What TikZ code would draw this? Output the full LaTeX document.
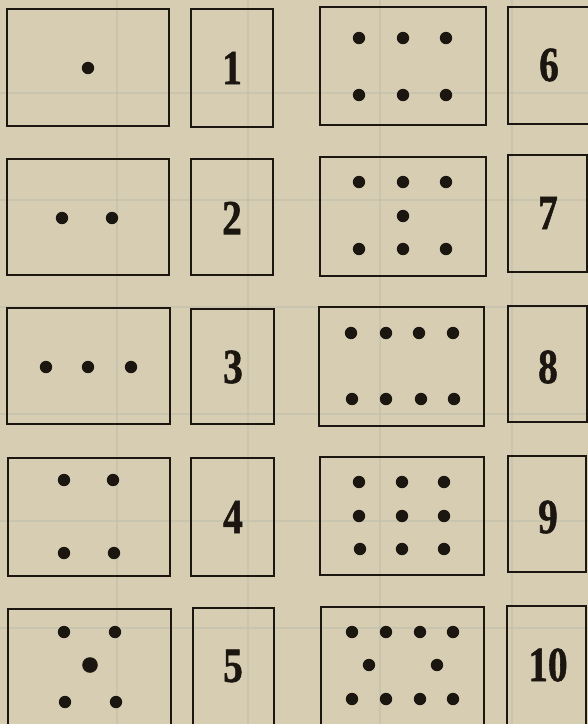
\documentclass[tikz,border=0pt]{standalone}
\usepackage{fontspec}
\newfontfamily\numfont{Liberation Serif}[BoldFeatures={FakeBold=1.3}]
\usetikzlibrary{fit}
\definecolor{paper}{RGB}{214,205,178}
\definecolor{ink}{RGB}{28,22,16}
\definecolor{gridc}{RGB}{192,190,172}
\tikzset{
  box/.style={draw=ink, line width=1.7pt, inner sep=0pt},
  num/.style={font=\numfont\fontsize{49}{49}\selectfont\bfseries, text=ink, inner sep=0pt},
  gridline/.style={draw=gridc, line width=1.2pt, opacity=0.6}
}
\newcommand\dotat[1]{\fill[ink] (#1) circle (6.2pt);}
\newcommand\numtxt[1]{\scalebox{0.8}[1]{#1}}
\begin{document}
\begin{tikzpicture}[x=1pt,y=-1pt]
\useasboundingbox (0,0) rectangle (588,724);
\clip (0,0) rectangle (588,724);
\fill[paper] (0,0) rectangle (588,724);
% faint ruling of the paper
\foreach \yy in {93,200,307,414,521,628} \draw[gridline] (0,\yy) -- (588,\yy);
\foreach \xx in {117,248,380,512} \draw[gridline] (\xx,0) -- (\xx,724);
% left dot boxes
\node[box, fit={(7,9) (169,126)}] (L1) {};
\node[box, fit={(7,159) (169,275)}] (L2) {};
\node[box, fit={(7,308) (170,424)}] (L3) {};
\node[box, fit={(8,458) (170,576)}] (L4) {};
\node[box, fit={(8,609) (171,734)}] (L5) {};
% left number boxes
\node[box, fit={(191,9) (273,127)}] (N1) {};
\node[box, fit={(191,159) (273,275)}] (N2) {};
\node[box, fit={(191,309) (274,424)}] (N3) {};
\node[box, fit={(191,458) (274,576)}] (N4) {};
\node[box, fit={(193,608) (274,734)}] (N5) {};
% right dot boxes
\node[box, fit={(320,7) (486,125)}] (R6) {};
\node[box, fit={(320,157) (486,276)}] (R7) {};
\node[box, fit={(319,307) (484,426)}] (R8) {};
\node[box, fit={(320,457) (484,575)}] (R9) {};
\node[box, fit={(321,607) (484,734)}] (R10) {};
% right number boxes
\node[box, fit={(508,7) (596,124)}] (N6) {};
\node[box, fit={(508,155) (587,272)}] (N7) {};
\node[box, fit={(508,306) (587,422)}] (N8) {};
\node[box, fit={(508,456) (586,572)}] (N9) {};
\node[box, fit={(507,606) (586,734)}] (N10) {};
% numbers
\node[num] (t1) at (232,68) {\numtxt{1}};
\node[num] (t2) at (232,218) {\numtxt{2}};
\node[num] (t3) at (233,367) {\numtxt{3}};
\node[num] (t4) at (233,517) {\numtxt{4}};
\node[num] (t5) at (233,666) {\numtxt{5}};
\node[num] (t6) at (549,65) {\numtxt{6}};
\node[num] (t7) at (548,213) {\numtxt{7}};
\node[num] (t8) at (548,367) {\numtxt{8}};
\node[num] (t9) at (548,517) {\numtxt{9}};
\node[num] (t10) at (548,665) {\numtxt{10}};
% dots
\dotat{88,68}
\dotat{62,218} \dotat{112,218}
\dotat{46,367} \dotat{88,367} \dotat{131,367}
\dotat{64,480} \dotat{113,480} \dotat{64,553} \dotat{114,553}
\dotat{64,632} \dotat{115,632} \dotat{65,702} \dotat{116,702}
\fill[ink] (90,665) circle (7.8pt);
\dotat{359,38} \dotat{403,38} \dotat{446,38}
\dotat{359,95} \dotat{403,95} \dotat{446,95}
\dotat{359,182} \dotat{403,182} \dotat{446,182}
\dotat{403,216}
\dotat{359,249} \dotat{403,249} \dotat{446,249}
\dotat{351,333} \dotat{386,333} \dotat{419,333} \dotat{453,333}
\dotat{352,399} \dotat{386,399} \dotat{421,399} \dotat{454,399}
\dotat{359,482} \dotat{402,482} \dotat{444,482}
\dotat{359,516} \dotat{402,516} \dotat{444,516}
\dotat{360,549} \dotat{402,549} \dotat{444,549}
\dotat{352,632} \dotat{386,632} \dotat{420,632} \dotat{453,632}
\dotat{369,665} \dotat{437,665}
\dotat{352,699} \dotat{386,699} \dotat{420,699} \dotat{453,699}
\end{tikzpicture}
\end{document}
